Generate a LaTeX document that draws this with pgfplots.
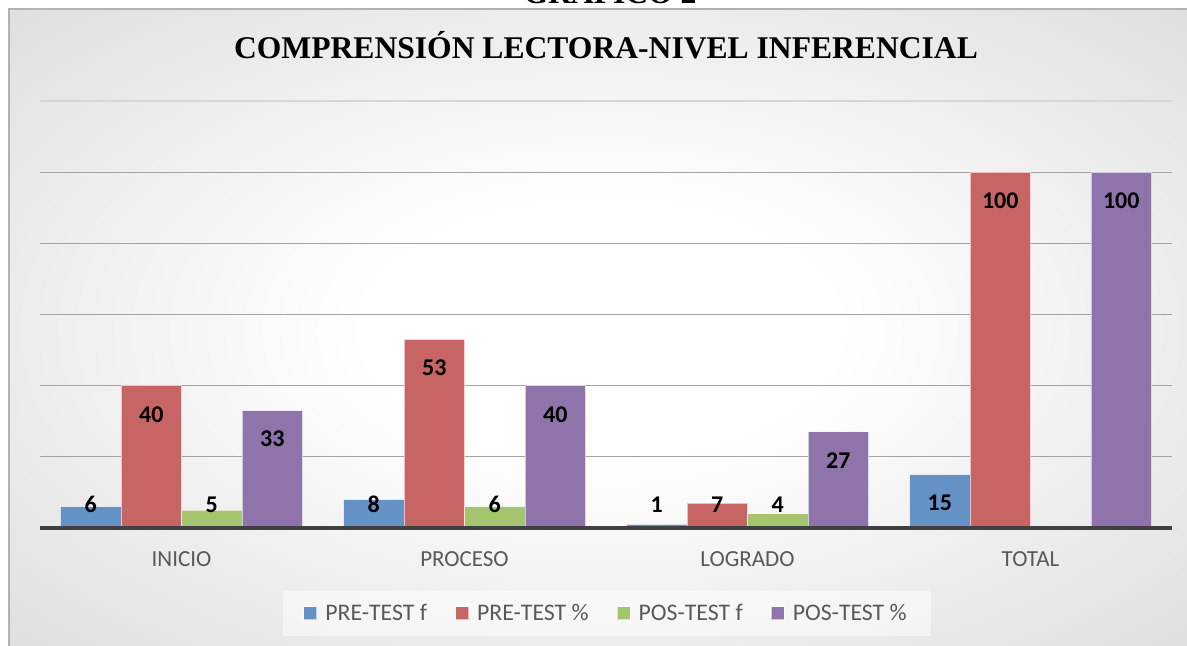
\documentclass[border=0pt]{standalone}
\usepackage{fontspec}
\setmainfont{Carlito}
\newfontfamily\titlefont{Liberation Serif}
\usepackage{pgfplots}
\pgfplotsset{compat=1.18}
\definecolor{cblue}{HTML}{6592C6}
\definecolor{cred}{HTML}{C66563}
\definecolor{cgreen}{HTML}{A5C46E}
\definecolor{cpurple}{HTML}{8E74AB}
\definecolor{txtgray}{HTML}{595959}
\pgfdeclareradialshading{bgshade}{\pgfpoint{0bp}{0bp}}{color(0bp)=(white); color(10bp)=(white); color(50bp)=(black!20); color(72bp)=(black!26)}
\pgfplotsset{sqleg/.style={legend image code/.code={\draw[##1, fill opacity=1, draw opacity=0.6] (0pt,-3.25pt) rectangle (6.5pt,3.25pt); \path (8.5pt,0pt);}}}
\begin{document}
\begin{tikzpicture}
\useasboundingbox (0,0) rectangle (593.5pt,323pt);
\shade[shading=bgshade] (4.5pt,-2pt) rectangle (596pt,318.5pt);
\draw[black!30, line width=0.6pt] (4.5pt,-2pt) -- (4.5pt,318.5pt) -- (596pt,318.5pt);
\node[anchor=base, inner sep=0pt, font=\titlefont\bfseries\fontsize{15.8}{18}\selectfont] at (305pt,321pt) {GRÁFICO 2};
\node[anchor=base, inner sep=0pt, font=\titlefont\bfseries\fontsize{15.8}{18}\selectfont] at (303pt,293.5pt) {COMPRENSIÓN LECTORA-NIVEL INFERENCIAL};
\begin{axis}[
  at={(20pt,59pt)}, anchor=south west,
  scale only axis, width=566pt, height=213.5pt,
  xmin=-0.5, xmax=3.5, ymin=0, ymax=120,
  clip=false,
  ybar=0pt, bar width=30.25pt,
  xtick={0,1,2,3}, xticklabels={INICIO,PROCESO,LOGRADO,TOTAL},
  ytick={0,20,...,100}, yticklabels={},
  ymajorgrids, major grid style={black!36, line width=0.55pt},
  axis line style={draw=none}, major tick length=0pt,
  xticklabel style={anchor=base, yshift=-19.5pt, font=\fontsize{11.5}{13}\selectfont, text=txtgray},
  /pgf/number format/assume math mode=true,
  nodes near coords={\pgfmathprintnumber{\pgfplotspointmeta}},
  visualization depends on={rawy \as \myy},
  every node near coord/.append style={anchor=center, inner sep=0pt, font=\bfseries\fontsize{12}{14}\selectfont, text=black, yshift={max(\myy*1.7792-14.3,11.75)-\myy*1.7792}},
  legend columns=4,
  legend style={at={(axis description cs:0.5009,-0.2002)}, anchor=center, draw=none, fill=white, fill opacity=0.5, text opacity=1, font=\fontsize{11.9}{14}\selectfont, text=txtgray, inner xsep=10pt, inner ysep=4.5pt, /tikz/every even column/.append style={column sep=12pt}},
]
\draw[black!16, line width=0.6pt] (axis cs:-0.5,120) -- (axis cs:3.5,120);
\addplot[fill=cblue, draw=white, draw opacity=0.6, line width=0.5pt, sqleg] coordinates {(0,6) (1,8) (2,1) (3,15)};
\addlegendentry{PRE-TEST f}
\addplot[fill=cred, draw=white, draw opacity=0.6, line width=0.5pt, sqleg] coordinates {(0,40) (1,53) (2,7) (3,100)};
\addlegendentry{PRE-TEST \%}
\addplot[fill=cgreen, draw=white, draw opacity=0.6, line width=0.5pt, sqleg] coordinates {(0,5) (1,6) (2,4)};
\addlegendentry{POS-TEST f}
\addplot[fill=cpurple, draw=white, draw opacity=0.6, line width=0.5pt, sqleg] coordinates {(0,33) (1,40) (2,27) (3,100)};
\addlegendentry{POS-TEST \%}
\draw[line width=1.8pt, black!75] (axis cs:-0.5,0) -- (axis cs:3.5,0);
\end{axis}
\end{tikzpicture}
\end{document}
